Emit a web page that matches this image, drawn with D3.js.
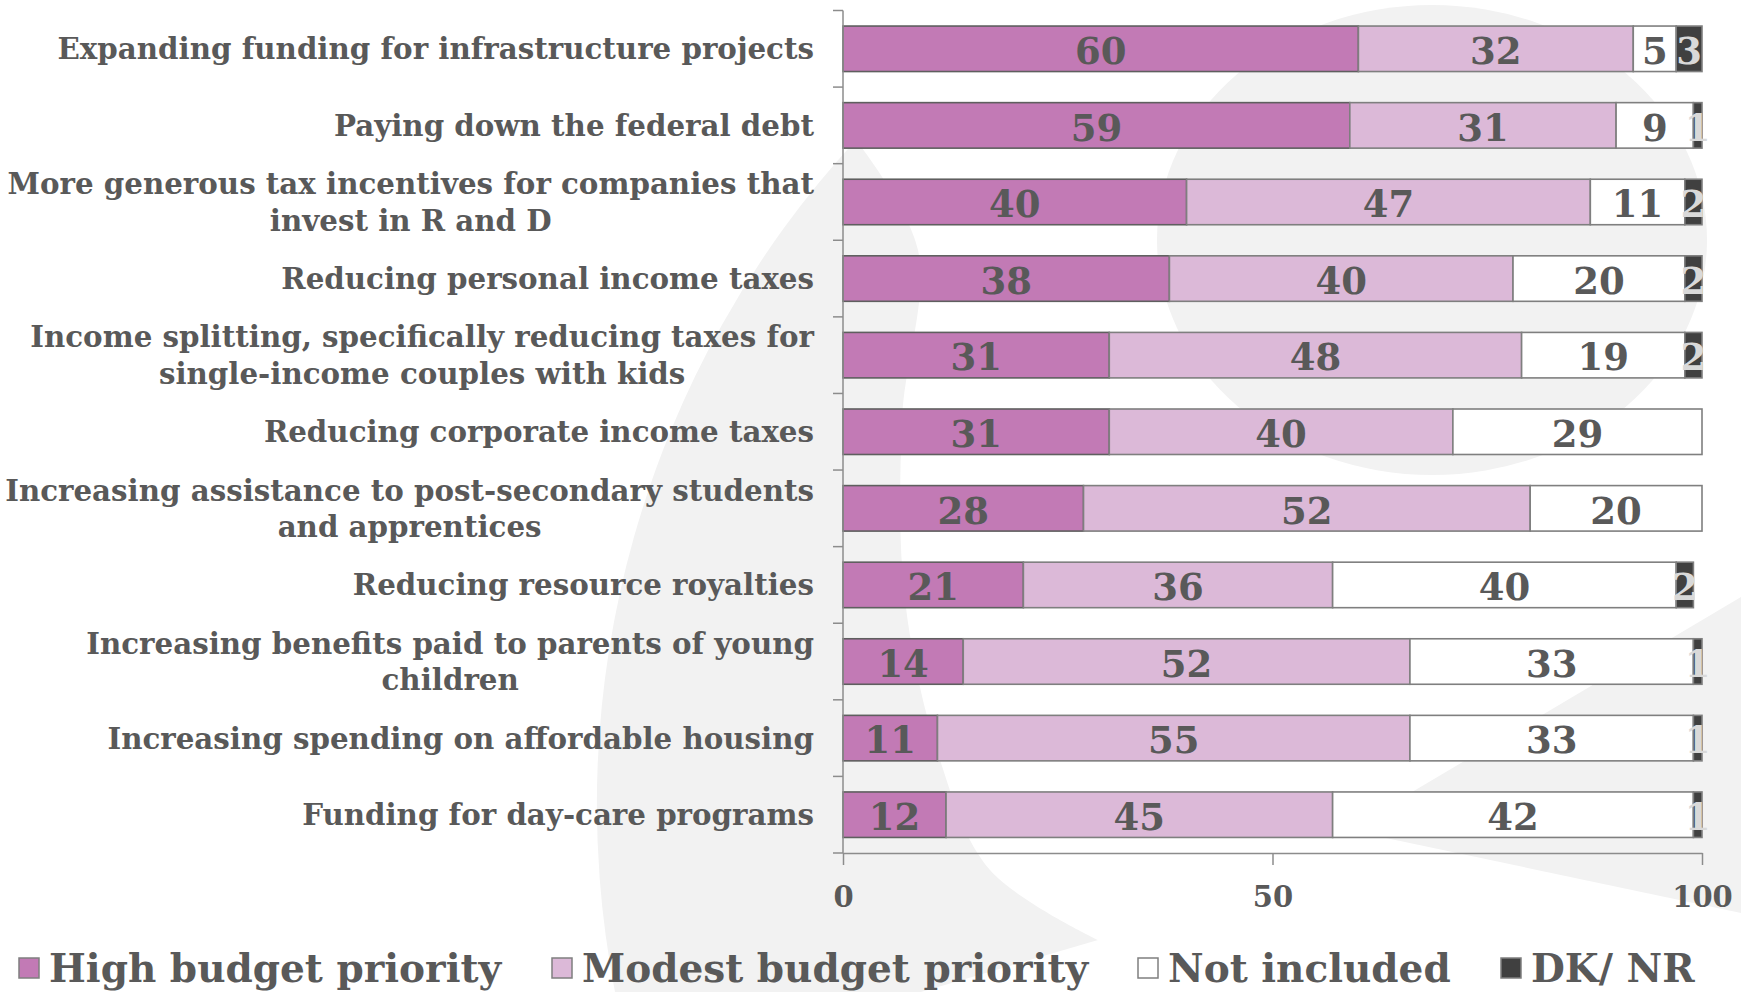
<!DOCTYPE html>
<html>
<head>
<meta charset="utf-8">
<script src="https://cdn.jsdelivr.net/npm/d3@7"></script>
<style>
  html, body { margin: 0; padding: 0; background: #ffffff; }
  svg { display: block; }
  text { font-family: "DejaVu Serif", Georgia, serif; font-weight: bold; fill: #595959; }
</style>
</head>
<body>
<svg id="chart" width="1741" height="992"></svg>
<script>
// Budget priorities, share of respondents (%)
const categories = [
  "Expanding funding for infrastructure projects",
  "Paying down the federal debt",
  "More generous tax incentives for companies that\ninvest in R and D",
  "Reducing personal income taxes",
  "Income splitting, specifically reducing taxes for\nsingle-income couples with kids",
  "Reducing corporate income taxes",
  "Increasing assistance to post-secondary students\nand apprentices",
  "Reducing resource royalties",
  "Increasing benefits paid to parents of young\nchildren",
  "Increasing spending on affordable housing",
  "Funding for day-care programs"
];
const highPriority   = [60, 59, 40, 38, 31, 31, 28, 21, 14, 11, 12];
const modestPriority = [32, 31, 47, 40, 48, 40, 52, 36, 52, 55, 45];
const notIncluded    = [ 5,  9, 11, 20, 19, 29, 20, 40, 33, 33, 42];
const dkNr           = [ 3,  1,  2,  2,  2,  0,  0,  2,  1,  1,  1];
const seriesNames = ["High budget priority", "Modest budget priority", "Not included", "DK/ NR"];
const xTickValues = [0, 50, 100];

const seriesColors = ["#c27ab5", "#dcb9d8", "#ffffff", "#404040"];
const labelColors  = ["#595959", "#595959", "#595959", "#d9d9d9"];

const svg = d3.select("#chart");

// ---- background emblem ----
const emblem = svg.append("g").attr("fill", "#f2f2f2");
{
  // left stroke: outer arc, cut at the bottom, curved inner edge back to the top
  const innerEdge = d3.line().curve(d3.curveCatmullRom.alpha(0.5))([
    [1098, 940], [990, 870], [940, 760], [905, 600], [902, 420], [918, 250], [856, 140]
  ]);
  const stroke = "M856,140A981,981 0 0,0 615,992L921,992" + innerEdge.replace(/^M/, "L") + "Z";
  emblem.append("path").attr("d", stroke);
  emblem.append("ellipse").attr("cx", 1432).attr("cy", 240).attr("rx", 275).attr("ry", 235);
  emblem.append("path").attr("d", "M1348,830L1741,597L1741,913Z");
}

// ---- scales ----
const x = d3.scaleLinear().domain([0, 100]).range([843, 1702]);
const y = d3.scaleBand().domain(d3.range(categories.length)).range([10.5, 853]).paddingInner(0.406).paddingOuter(0.203);

const rows = categories.map((c, i) => ({
  i, high: highPriority[i], modest: modestPriority[i], notinc: notIncluded[i], dk: dkNr[i]
}));
const keys = ["high", "modest", "notinc", "dk"];
const stacked = d3.stack().keys(keys)(rows);

// ---- bars ----
const barG = svg.append("g");
stacked.forEach((layer, k) => {
  barG.append("g")
    .selectAll("rect")
    .data(layer.filter(d => d[1] > d[0]))
    .join("rect")
    .attr("x", d => x(d[0]))
    .attr("y", d => y(d.data.i))
    .attr("width", d => x(d[1]) - x(d[0]))
    .attr("height", y.bandwidth())
    .attr("fill", seriesColors[k])
    .attr("stroke", k === 0 ? "#5f5f5f" : "#7f7f7f")
    .attr("stroke-width", 1.6);
});

// ---- value labels ----
const valG = svg.append("g");
stacked.forEach((layer, k) => {
  valG.append("g")
    .selectAll("text")
    .data(layer.filter(d => d[1] > d[0]))
    .join("text")
    .attr("x", d => (x(d[0]) + x(d[1])) / 2)
    .attr("y", d => y(d.data.i) + y.bandwidth() / 2 + 2)
    .attr("dy", "0.36em")
    .attr("text-anchor", "middle")
    .style("font-size", "37px")
    .style("fill", labelColors[k])
    .text(d => d[1] - d[0]);
});

// ---- category axis ----
const axisColor = "#8c8c8c";
const yAxis = svg.append("g");
yAxis.append("line")
  .attr("x1", x(0)).attr("x2", x(0))
  .attr("y1", y.range()[0]).attr("y2", y.range()[1])
  .attr("stroke", axisColor).attr("stroke-width", 1.5);
yAxis.selectAll("line.tick")
  .data(d3.range(categories.length + 1))
  .join("line")
  .attr("class", "tick")
  .attr("x1", x(0) - 10).attr("x2", x(0))
  .attr("y1", i => y.range()[0] + i * y.step())
  .attr("y2", i => y.range()[0] + i * y.step())
  .attr("stroke", axisColor).attr("stroke-width", 1.5);

// category labels, right-aligned block, lines centred on each other
const labelRight = 814, lineGap = 36.6;
const catG = svg.append("g");
categories.forEach((c, i) => {
  const lines = c.split("\n");
  const t = catG.append("text").style("font-size", "29.3px");
  const cyBand = y(i) + y.bandwidth() / 2;
  const spans = lines.map((ln, j) => t.append("tspan")
    .attr("y", cyBand + (j - (lines.length - 1) / 2) * lineGap)
    .attr("dy", "0.36em")
    .attr("text-anchor", "middle")
    .text(ln));
  const widest = d3.max(spans, s => s.node().getComputedTextLength());
  spans.forEach(s => s.attr("x", labelRight - widest / 2));
});

// ---- value axis ----
const xAxis = svg.append("g")
  .attr("transform", `translate(0,${y.range()[1]})`)
  .call(d3.axisBottom(x).tickValues(xTickValues).tickSize(12).tickSizeOuter(0));
xAxis.select(".domain").attr("stroke", axisColor).attr("stroke-width", 1.5);
xAxis.selectAll(".tick line").attr("stroke", axisColor).attr("stroke-width", 1.5);
xAxis.selectAll(".tick text")
  .attr("y", 44).attr("dy", "0.36em")
  .attr("fill", null)
  .style("font-size", "29px")
  .style("font-family", "\"DejaVu Serif\", serif")
  .style("font-weight", "bold");

// ---- legend ----
const legend = svg.append("g").attr("transform", "translate(0,968)");
const legendX = [19, 552, 1138, 1501];
seriesNames.forEach((name, k) => {
  const g = legend.append("g").attr("transform", `translate(${legendX[k]},0)`);
  g.append("rect").attr("x", 0).attr("y", -10).attr("width", 20).attr("height", 20)
    .attr("fill", seriesColors[k]).attr("stroke", "#7f7f7f").attr("stroke-width", 1.5);
  g.append("text").attr("x", 30).attr("y", 0).attr("dy", "0.36em")
    .style("font-size", "39px").text(name);
});
</script>
</body>
</html>
